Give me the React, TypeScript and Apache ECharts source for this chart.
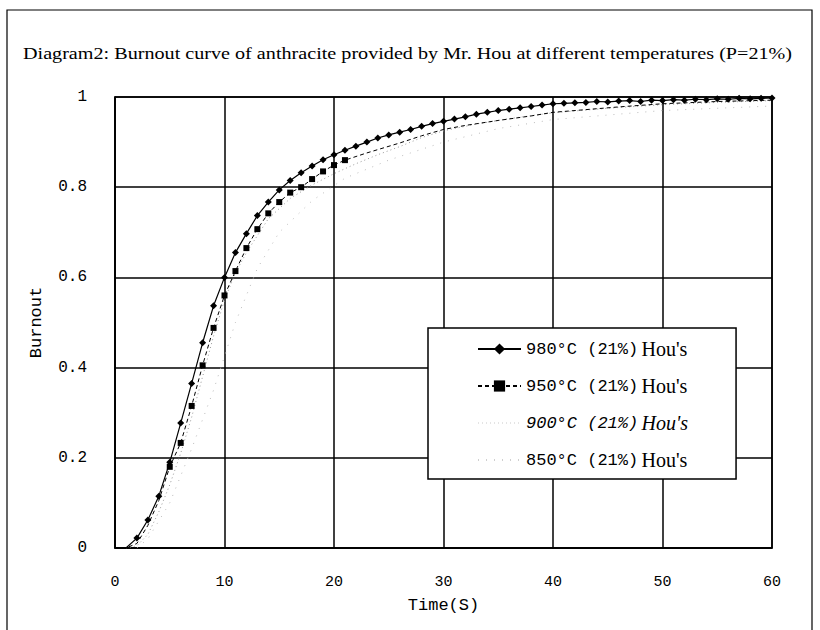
import React, { useEffect, useRef } from "react";
import * as echarts from "echarts";

const TITLE = "Diagram2: Burnout curve of anthracite provided by Mr. Hou at different temperatures (P=21%)";
const X_NAME = "Time(S)";
const Y_NAME = "Burnout";
const SERIES_NAMES = ["980°C (21%) Hou's", "950°C (21%) Hou's", "900°C (21%) Hou's", "850°C (21%) Hou's"];

const t980 = [0, 1, 2, 3, 4, 5, 6, 7, 8, 9, 10, 11, 12, 13, 14, 15, 16, 17, 18, 19, 20, 21, 22, 23, 24, 25, 26, 27, 28, 29, 30, 31, 32, 33, 34, 35, 36, 37, 38, 39, 40, 41, 42, 43, 44, 45, 46, 47, 48, 49, 50, 51, 52, 53, 54, 55, 56, 57, 58, 59, 60];
const b980 = [0, 0, 0.022, 0.062, 0.115, 0.19, 0.277, 0.365, 0.455, 0.537, 0.6, 0.655, 0.697, 0.737, 0.767, 0.794, 0.815, 0.832, 0.847, 0.861, 0.872, 0.882, 0.891, 0.9, 0.909, 0.916, 0.922, 0.928, 0.935, 0.941, 0.946, 0.951, 0.956, 0.962, 0.966, 0.97, 0.973, 0.976, 0.979, 0.982, 0.985, 0.986, 0.987, 0.988, 0.99, 0.989, 0.991, 0.992, 0.99, 0.993, 0.992, 0.994, 0.993, 0.995, 0.994, 0.996, 0.995, 0.997, 0.996, 0.997, 0.998];

const t950 = [0, 1, 2, 3, 4, 5, 6, 7, 8, 9, 10, 11, 12, 13, 14, 15, 16, 17, 18, 19, 20, 21, 23, 26, 28, 30, 32, 35, 38, 40, 43, 46, 50, 55, 60];
const b950 = [0, 0, 0.01, 0.05, 0.105, 0.18, 0.233, 0.315, 0.405, 0.488, 0.56, 0.614, 0.665, 0.707, 0.742, 0.767, 0.788, 0.8, 0.818, 0.835, 0.849, 0.86, 0.876, 0.898, 0.914, 0.928, 0.937, 0.948, 0.958, 0.966, 0.972, 0.978, 0.985, 0.99, 0.993];

const t900 = [1, 2, 3, 4, 5, 6, 7, 8, 9, 10, 11, 12, 14, 16, 18, 20, 22, 24, 26, 28, 30, 33, 36, 40, 45, 50, 55, 60];
const b900 = [0, 0.005, 0.03, 0.08, 0.14, 0.21, 0.29, 0.38, 0.47, 0.55, 0.61, 0.655, 0.73, 0.775, 0.805, 0.83, 0.852, 0.872, 0.89, 0.91, 0.925, 0.94, 0.952, 0.965, 0.975, 0.983, 0.988, 0.992];

const t850 = [2, 3, 5, 7, 9, 11, 13, 15, 18, 21, 25, 30, 35, 40, 50, 60];
const b850 = [0, 0.02, 0.1, 0.22, 0.35, 0.5, 0.62, 0.7, 0.77, 0.82, 0.86, 0.9, 0.93, 0.95, 0.97, 0.98];

const zip = (xs: number[], ys: number[]) => xs.map((x, i) => [x, ys[i]]);

export default function App() {
  const ref = useRef<HTMLDivElement>(null);
  useEffect(() => {
    if (!ref.current) return;
    const chart = echarts.init(ref.current, undefined, { renderer: "svg" });
    const mono = "Liberation Mono";
    const serif = "Liberation Serif";
    chart.setOption({
      animation: false,
      backgroundColor: "#fff",
      grid: { left: 115, right: 48, top: 97, bottom: 82, show: true, borderColor: "#000", borderWidth: 1.5 },
      graphic: [
        { type: "rect", shape: { x: 7, y: 10, width: 805, height: 640 }, style: { fill: "none", stroke: "#000", lineWidth: 1.2 }, silent: true },
        { type: "text", x: 23, y: 54, scaleX: 1.26, style: { text: TITLE, font: `16px ${serif}`, fill: "#000", textVerticalAlign: "middle" } },
      ],
      legend: {
        orient: "vertical",
        left: 428,
        top: 328,
        padding: [11, 48, 9, 49],
        itemWidth: 43,
        itemHeight: 14,
        itemGap: 17,
        borderColor: "#000",
        borderWidth: 1.5,
        backgroundColor: "#fff",
        data: [
          { name: SERIES_NAMES[0] },
          { name: SERIES_NAMES[1] },
          { name: SERIES_NAMES[2], itemStyle: { opacity: 0 }, lineStyle: { color: "#e4e4e4" } },
          { name: SERIES_NAMES[3], itemStyle: { opacity: 0 }, lineStyle: { color: "#cfcfcf" } },
        ],
        formatter: (name: string) => {
          const [a, b] = name.split(" Hou");
          const it = name.startsWith("900") ? "i" : "";
          return `{a${it}|${a}} {b${it}|Hou${b}}`;
        },
        textStyle: {
          color: "#000",
          rich: {
            a: { fontFamily: mono, fontSize: 17, color: "#000", lineHeight: 18 },
            b: { fontFamily: serif, fontSize: 20, color: "#000", lineHeight: 18 },
            ai: { fontFamily: mono, fontSize: 17, fontStyle: "italic", color: "#000", lineHeight: 18 },
            bi: { fontFamily: serif, fontSize: 20, fontStyle: "italic", color: "#000", lineHeight: 18 },
          },
        },
      },
      xAxis: {
        type: "value",
        min: 0,
        max: 60,
        interval: 10,
        name: X_NAME,
        nameLocation: "middle",
        nameGap: 49,
        nameTextStyle: { fontFamily: mono, fontSize: 17, color: "#000" },
        axisLine: { lineStyle: { color: "#000", width: 1.5 } },
        axisTick: { show: false },
        axisLabel: { fontFamily: mono, fontSize: 15, color: "#000", margin: 27 },
        splitLine: { lineStyle: { color: "#000", width: 1.5 } },
      },
      yAxis: {
        type: "value",
        min: 0,
        max: 1,
        interval: 0.2,
        name: Y_NAME,
        nameLocation: "middle",
        nameGap: 70,
        nameTextStyle: { fontFamily: mono, fontSize: 17, color: "#000" },
        axisLine: { lineStyle: { color: "#000", width: 1.5 } },
        axisTick: { show: false },
        axisLabel: {
          fontFamily: mono,
          fontSize: 16,
          color: "#000",
          margin: 28,
          formatter: (v: number) => (v === 0 || v === 1 ? String(v) : v.toFixed(1)),
        },
        splitLine: { lineStyle: { color: "#000", width: 1.5 } },
      },
      series: [
        {
          name: SERIES_NAMES[0],
          type: "line",
          data: zip(t980, b980),
          symbol: "diamond",
          symbolSize: (v: number[]) => (v[0] >= 2 ? 7 : 0),
          itemStyle: { color: "#000" },
          lineStyle: { color: "#000", width: 1.2 },
          z: 4,
        },
        {
          name: SERIES_NAMES[1],
          type: "line",
          data: zip(t950, b950),
          symbol: "rect",
          symbolSize: (v: number[]) => (v[0] >= 5 && v[0] <= 21 ? 6 : 0),
          itemStyle: { color: "#000" },
          lineStyle: { color: "#000", width: 1, type: [4, 3] },
          z: 3,
        },
        {
          name: SERIES_NAMES[2],
          type: "line",
          data: zip(t900, b900),
          symbol: "none",
          itemStyle: { color: "#aaa" },
          lineStyle: { color: "#999", width: 1, type: [1, 3] },
          z: 2,
        },
        {
          name: SERIES_NAMES[3],
          type: "line",
          data: zip(t850, b850),
          symbol: "none",
          itemStyle: { color: "#ccc" },
          lineStyle: { color: "#bbb", width: 1, type: [1, 7] },
          z: 1,
        },
      ],
    });
    return () => chart.dispose();
  }, []);
  return <div ref={ref} style={{ position: "absolute", left: 0, top: 0, width: 820, height: 630 }} />;
}
